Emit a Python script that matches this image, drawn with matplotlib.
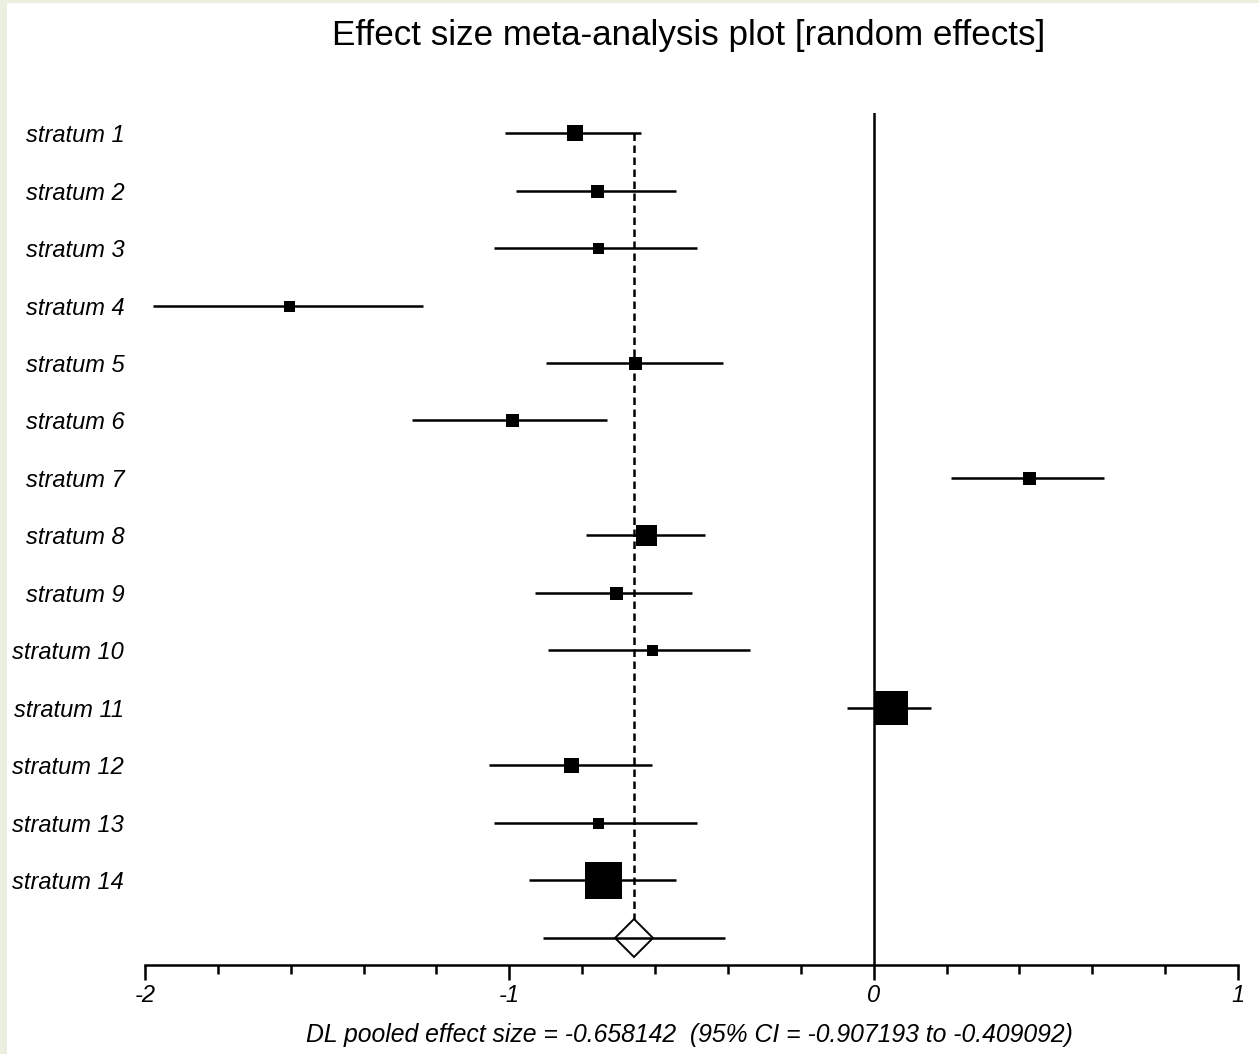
import numpy as np
import matplotlib
matplotlib.use("Agg")
import matplotlib.pyplot as plt
from matplotlib.patches import Rectangle
from matplotlib.ticker import MultipleLocator

plt.rcParams['font.family'] = ['Liberation Sans', 'DejaVu Sans']
plt.rcParams['axes.unicode_minus'] = False

# data
labels = ['stratum %d' % i for i in range(1, 15)]
effect = [-0.820, -0.759, -0.756, -1.605, -0.656, -0.993, 0.425,
          -0.626, -0.708, -0.609, 0.047, -0.831, -0.757, -0.744]
ci_lo = [-1.012, -0.982, -1.043, -1.978, -0.900, -1.268, 0.211,
         -0.790, -0.930, -0.894, -0.074, -1.056, -1.043, -0.947]
ci_hi = [-0.639, -0.543, -0.486, -1.237, -0.414, -0.733, 0.631,
         -0.464, -0.499, -0.340, 0.156, -0.609, -0.486, -0.543]
box = [16, 13, 11, 11, 13, 13, 13, 21, 13, 11, 34, 15, 11, 37]  # relative weight -> box width
pooled = -0.658142
pooled_lo = -0.907193
pooled_hi = -0.409092

W, H = 1259, 1054
fig = plt.figure(figsize=(W/100, H/100), dpi=100, facecolor='#ebefe0')
fig.patches.append(Rectangle((7/W, 0), 1 - 7/W, 1 - 3/H, transform=fig.transFigure,
                             facecolor='white', edgecolor='none', zorder=-1))

# axes: x=-2 at px 145, x=1 at px 1238; bottom axis at px 965, top at px 113
ax = fig.add_axes([145/W, (H - 965)/H, (1238 - 145)/W, (965 - 113)/H])
ax.set_facecolor('none')
ax.set_zorder(2)

n = len(labels)
rows = np.arange(n)
ax.set_xlim(-2, 1)
ax.set_ylim(14.47, -0.348)

lw = 1.8
# zero line
ax.axvline(0, color='black', lw=lw, zorder=2)
# pooled dashed line
ax.vlines(pooled, 0, n, color='black', lw=lw, linestyles=(0, (3.0, 1.8)), zorder=1)

for i in range(n):
    ax.plot([ci_lo[i], ci_hi[i]], [i, i], color='black', lw=lw, zorder=3, solid_capstyle='butt')
    ax.plot(effect[i], i, marker='s', ms=box[i]*0.72, color='black', mew=0, zorder=4)

# pooled estimate
ax.plot(pooled, n, marker='D', ms=19.5, mfc='white', mec='black', mew=1.4, zorder=3)
ax.plot([pooled_lo, pooled_hi], [n, n], color='black', lw=lw, zorder=4, solid_capstyle='butt')

for s in ['left', 'top', 'right']:
    ax.spines[s].set_visible(False)
ax.spines['bottom'].set_linewidth(lw)

ax.set_xticks([-2, -1, 0, 1])
ax.set_xticklabels(['-2', '-1', '0', '1'], fontstyle='italic', fontsize=17)
ax.xaxis.set_minor_locator(MultipleLocator(0.2))
ax.tick_params(axis='x', which='major', length=11, width=lw, direction='out', pad=3)
ax.tick_params(axis='x', which='minor', length=6.5, width=lw, direction='out')

ax.set_yticks(rows)
ax.set_yticklabels(labels, fontstyle='italic', fontsize=17)
ax.tick_params(axis='y', length=0, pad=15)

fig.text(689/W, 1 - 35/H, 'Effect size meta-analysis plot [random effects]',
         ha='center', va='center', fontsize=25.2)
fig.text(689/W, 1 - 1035/H,
         'DL pooled effect size = %.6f  (95%% CI = %.6f to %.6f)' % (pooled, pooled_lo, pooled_hi),
         ha='center', va='center', fontsize=17.8, fontstyle='italic')

fig.savefig('out.png', dpi=100, facecolor=fig.get_facecolor())
